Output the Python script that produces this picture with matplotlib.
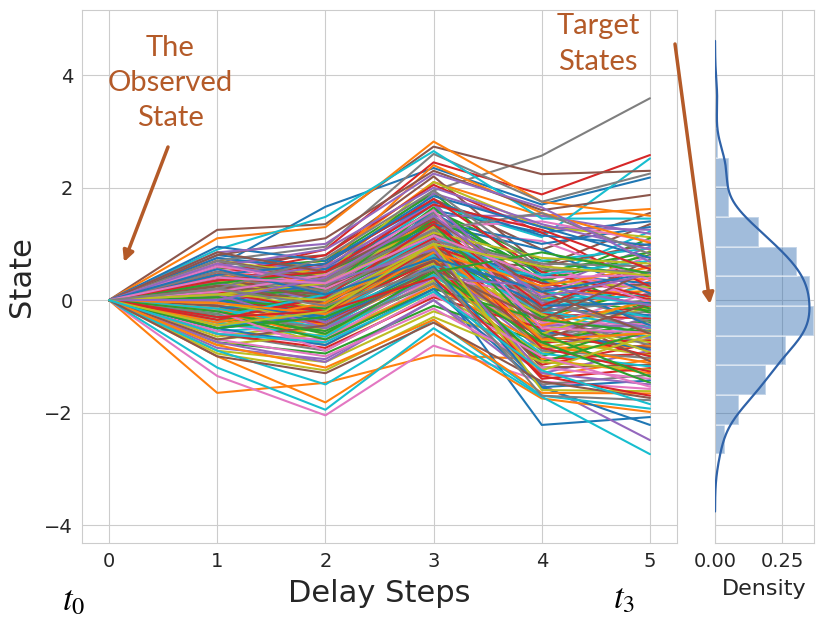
import numpy as np
import matplotlib.pyplot as plt
import seaborn as sns

sns.set_style('whitegrid')
plt.rcParams['font.family'] = ['DejaVu Sans']

# delay steps on the x axis
steps = [0, 1, 2, 3, 4, 5]
x_ticks = [0, 1, 2, 3, 4, 5]
y_ticks = [-4, -2, 0, 2, 4]
dens_ticks = [0.0, 0.25]

# every trajectory starts at the observed state 0, values below are steps 1..5
paths = [
    # 0-9
    [0.6, 1.66, 2.35, 1.7, 2.18],
    [0.5, 0.7, 2.1, 1.5, 1.62],
    [0.15, 0.5, 1.6, 0.7, 0.41],
    [0.25, 0.4, 1.3, -0.35, -0.11],
    [0.3, 0.05, 1.0, -0.6, -0.64],
    [-0.1, 0.4, 1.8, 0.9, 1.55],
    [-0.3, -0.55, 0.45, -0.25, 0.40],
    [0.35, 0.55, 1.95, 2.57, 3.59],
    [-0.35, -0.65, 0.25, -0.6, -0.13],
    [-0.55, -0.45, 0.5, -0.2, -0.66],
    # 10-19
    [0.3, 0.1, 1.6, 1.2, 1.40],
    [0.6, 0.45, 1.4, 0.3, 0.38],
    [0.55, 0.7, 1.9, 0.4, -0.15],
    [0.45, 0.9, 2.45, 1.88, 2.58],
    [0.1, 0.55, 1.75, -0.4, -0.68],
    [0.65, 0.8, 2.2, 0.6, 1.35],
    [-0.1, 0.2, 1.25, 1.05, 0.36],
    [-0.1, -0.3, 0.75, -0.8, -0.17],
    [-0.2, -0.8, 0.15, -0.95, -0.70],
    [0.2, 0.35, 1.7, 1.12, 2.52],
    # 20-29
    [-0.2, 0.3, 1.4, 1.0, 1.30],
    [0.3, -0.1, 0.8, -0.4, 0.34],
    [0.05, 0.1, 1.05, 0.05, -0.19],
    [0.6, 0.3, 1.15, -0.75, -0.72],
    [0.4, 0.2, 1.9, 1.3, 1.25],
    [1.25, 1.35, 2.73, 2.24, 2.30],
    [-0.55, -0.8, 0.2, -0.05, 0.32],
    [-0.6, -0.9, 0.1, -0.3, -0.21],
    [-0.7, -0.5, 0.4, -0.45, -0.75],
    [0.1, -0.2, 0.9, 0.4, 1.22],
    # 30-39
    [0.8, 0.6, 1.55, 0.45, 0.30],
    [1.1, 1.3, 2.82, 1.75, 1.50],
    [0.3, 0.15, 1.2, 0.6, -0.23],
    [0.2, -0.05, 0.8, -1.15, -0.78],
    [0.75, 0.5, 1.5, 1.5, 1.18],
    [0.05, -0.35, 0.65, 0.2, 0.28],
    [-0.2, -0.1, 0.9, -0.55, -0.25],
    [-0.35, -0.15, 1.05, -0.3, -0.80],
    [0.0, 0.45, 2.1, 1.3, 1.12],
    [-0.2, 0.15, 1.3, -0.15, 0.26],
    # 40-49
    [0.75, 0.55, 1.35, -0.15, -0.27],
    [0.45, 0.2, 0.95, -0.85, -0.82],
    [-0.4, -0.1, 1.2, 0.3, 1.10],
    [0.45, 0.8, 2.05, 1.2, 0.24],
    [-0.45, -0.35, 0.65, -0.9, -0.29],
    [-0.1, -0.6, 0.35, -0.65, -0.85],
    [0.55, 0.25, 1.3, 1.4, 1.05],
    [0.7, 0.95, 2.6, 1.75, 2.25],
    [-0.65, -0.4, 0.7, 0.35, 0.22],
    [0.15, -0.25, 0.55, 0.1, -0.31],
    # 50-59
    [0.0, 0.35, 1.5, -0.55, -0.88],
    [0.2, 0.6, 2.4, 1.55, 1.02],
    [0.25, 0.05, 0.9, -0.3, 0.20],
    [-0.05, 0.3, 1.4, -0.25, -0.33],
    [-0.85, -1.05, 0.0, -1.3, -0.90],
    [-0.1, -0.4, 0.7, 0.6, 1.00],
    [-0.05, -0.15, 1.1, 0.55, 0.18],
    [0.45, 0.05, 0.85, -0.65, -0.35],
    [0.35, 0.0, 0.65, -0.25, -0.93],
    [0.9, 1.48, 2.65, 1.45, 1.45],
    # 60-69
    [0.95, 0.7, 1.75, 1.15, 0.98],
    [0.5, 0.3, 1.45, 0.1, 0.16],
    [-0.75, -0.95, -0.1, -0.75, -0.37],
    [-0.3, -0.4, 0.55, -1.05, -0.95],
    [0.3, 0.0, 1.1, 0.2, 0.95],
    [0.8, 1.1, 2.3, 1.6, 1.87],
    [-0.4, -0.75, 0.3, -0.5, 0.14],
    [0.1, 0.2, 1.55, 0.2, -0.39],
    [0.7, 0.45, 1.3, -0.7, -0.98],
    [-0.5, -0.3, 0.8, 0.7, 0.92],
    # 70-79
    [0.1, 0.25, 1.35, 0.9, 0.12],
    [-1.65, -1.47, -0.98, -1.05, -1.30],
    [-0.3, -0.55, 0.3, -1.0, -0.41],
    [-0.6, -0.85, 0.05, -0.5, -1.00],
    [0.6, 0.9, 2.0, 1.35, 0.90],
    [0.7, 0.4, 1.2, -0.05, 0.10],
    [0.6, 0.35, 1.1, -0.4, -0.43],
    [0.05, -0.3, 0.9, -0.9, -1.03],
    [0.15, -0.15, 1.0, 0.0, 0.87],
    [-0.25, -0.3, 0.6, 0.0, 0.08],
    # 80-89
    [-0.15, 0.0, 1.0, 0.35, -0.45],
    [-0.45, -0.1, 0.75, -1.35, -1.06],
    [-0.25, 0.1, 1.45, 0.5, 0.85],
    [0.35, 0.65, 1.8, 0.5, 0.06],
    [0.2, -0.4, 0.45, -0.45, -0.47],
    [0.25, 0.1, 1.2, -0.15, -1.09],
    [-1.35, -2.05, -0.81, -1.45, -1.58],
    [0.7, 0.35, 1.25, 1.55, 0.82],
    [-0.8, -0.6, 0.35, -0.6, 0.04],
    [-0.5, -0.2, 0.8, -0.2, -0.49],
    # 90-99
    [0.1, -0.3, 0.4, -2.22, -2.08],
    [-0.15, -0.7, 0.25, -0.8, -1.12],
    [0.05, 0.2, 1.65, 0.35, 0.80],
    [0.0, -0.2, 0.95, 0.3, 0.02],
    [0.35, 0.6, 1.7, -0.05, -0.51],
    [0.4, 0.25, 0.85, -1.2, -1.15],
    [-0.6, -0.7, 0.4, 0.1, 0.78],
    [0.2, 0.35, 1.5, -0.2, 0.00],
    [-0.9, -1.1, -0.2, -0.85, -0.53],
    [-0.4, -0.65, 0.45, -0.95, -1.18],
    # 100-109
    [0.45, 0.65, 1.85, 1.3, 0.75],
    [-0.15, -0.45, 0.5, -0.45, -0.02],
    [0.0, -0.15, 0.7, -1.1, -0.55],
    [0.15, -0.2, 0.7, -1.4, -1.21],
    [-0.75, -1.1, 0.0, -1.5, -2.49],
    [0.25, -0.05, 0.95, -0.2, 0.72],
    [0.65, 0.2, 1.0, 0.65, -0.04],
    [0.5, 0.25, 1.25, 0.0, -0.56],
    [-0.95, -1.25, -0.3, -1.1, -1.24],
    [-0.15, -0.5, 0.6, 0.45, 0.70],
    # 110-119
    [-0.5, -0.25, 0.85, -0.1, -0.05],
    [-1.0, -1.82, -0.6, -1.75, -1.99],
    [-0.25, -0.7, 0.2, -0.35, -0.57],
    [0.5, 0.15, 1.1, -0.85, -1.27],
    [0.85, 1.0, 2.25, 1.65, 0.68],
    [0.4, 0.0, 0.7, -0.7, -0.06],
    [0.15, 0.45, 1.6, -0.5, -0.58],
    [-0.25, -0.5, 0.3, -1.5, -1.33],
    [0.1, 0.3, 1.2, 0.75, 0.65],
    [-0.3, 0.1, 1.15, 0.15, -0.08],
    # 120-129
    [-0.5, -0.8, 0.2, -1.55, -2.22],
    [-0.4, -0.05, 0.95, -0.7, -0.59],
    [0.3, 0.5, 1.35, -0.6, -1.36],
    [-0.35, 0.05, 1.35, -0.1, 0.62],
    [0.1, -0.5, 0.4, 0.25, -0.09],
    [0.85, 0.5, 1.45, 0.15, -0.60],
    [-0.7, -1.0, -0.15, -1.2, -1.40],
    [0.5, 0.15, 1.05, 0.65, 0.60],
    [-0.05, -0.35, 0.6, -1.25, -0.62],
    [-0.9, -1.5, -0.35, -1.7, -1.93],
    # 130-139
    [0.0, -0.35, 0.6, -1.55, -1.43],
    [-0.05, -0.25, 0.85, 0.25, 0.58],
    [-0.5, -0.3, 0.5, -0.75, -1.47],
    [0.35, 0.5, 1.7, 1.25, 0.55],
    [0.65, 0.3, 0.9, -1.3, -1.50],
    [-0.7, -0.45, 0.55, -0.35, 0.53],
    [-0.2, -0.9, 0.1, -1.0, -1.54],
    [0.2, 0.75, 1.95, 0.55, 0.50],
    [0.1, 0.0, 1.0, -1.6, -1.62],
    [-1.2, -1.95, -0.5, -1.72, -2.74],
    # 140-149
    [0.55, 0.1, 0.75, 0.15, 0.48],
    [-0.8, -1.2, -0.35, -1.65, -1.66],
    [-0.2, -0.6, 0.5, 0.85, 0.47],
    [-0.3, -0.2, 0.4, -1.35, -1.70],
    [0.0, 0.4, 1.5, 0.05, 0.46],
    [-1.0, -1.3, -0.4, -1.45, -1.74],
    [0.4, 0.3, 1.15, 0.4, 0.45],
    [0.2, -0.1, 0.55, -1.7, -1.78],
    [-0.45, -0.2, 1.0, 0.6, 0.44],
    [-0.6, -0.75, 0.15, -1.25, -1.85],
]

start_state = 0.0
n_bins = 12
kde_bw_adjust = 0.85
note_color = '#b45a28'
W, H = 826, 619

fig = plt.figure(figsize=(W / 100, H / 100), dpi=100)
ax = fig.add_axes([82 / W, 1 - 543 / H, 595 / W, 533 / H])
axh = fig.add_axes([715 / W, 1 - 543 / H, 99 / W, 533 / H], sharey=ax)

for p in paths:
    ax.plot(steps, [start_state] + p, lw=1.5)

ax.set_xticks(x_ticks)
ax.set_yticks(y_ticks)
ax.set_xlim(-0.25, 5.25)
ax.set_ylim(-4.32, 5.16)
ax.tick_params(labelsize=14, colors='.15', pad=3)
ax.set_xlabel('Delay Steps', fontsize=22, color='.15', labelpad=6)
ax.set_ylabel('State', fontsize=22, color='.15', labelpad=6)

# distribution of the target states (last step)
final = np.array([p[-1] for p in paths])
counts, edges = np.histogram(final, bins=n_bins, density=True)
axh.barh(edges[:-1], counts, height=np.diff(edges), align='edge',
         color='#2f6cb0', alpha=0.45, edgecolor='white', linewidth=1.2, zorder=2)

bw = kde_bw_adjust * final.std(ddof=1) * len(final) ** (-1 / 5)
grid = np.linspace(final.min() - 3 * bw, final.max() + 3 * bw, 300)
kde = np.exp(-0.5 * ((grid[:, None] - final[None, :]) / bw) ** 2).sum(axis=1)
kde /= len(final) * bw * np.sqrt(2 * np.pi)
axh.plot(kde, grid, color='#2f62a8', lw=1.6, zorder=3)

axh.set_xlim(0, 0.368)
axh.set_xticks(dens_ticks)
axh.set_xticklabels(['0.00', '0.25'])
axh.tick_params(labelleft=False, labelsize=14, colors='.15', pad=3)
axh.set_xlabel('Density', fontsize=16, color='.15', labelpad=6)

# annotations
fig.text(170 / W, 1 - 83 / H, 'The\nObserved\nState', ha='center', va='center',
         fontsize=21, color=note_color, family='Lato', linespacing=1.45)
fig.text(598 / W, 1 - 44 / H, 'Target\nStates', ha='center', va='center',
         fontsize=21, color=note_color, family='Lato', linespacing=1.45)
ax.annotate('', xy=(124 / W, 1 - 262 / H), xytext=(168 / W, 1 - 147 / H),
            xycoords='figure fraction', textcoords='figure fraction',
            arrowprops=dict(arrowstyle='-|>', color=note_color, lw=2.5,
                            mutation_scale=16, shrinkA=0, shrinkB=0))
ax.annotate('', xy=(710 / W, 1 - 304 / H), xytext=(675 / W, 1 - 44 / H),
            xycoords='figure fraction', textcoords='figure fraction',
            arrowprops=dict(arrowstyle='-|>', color=note_color, lw=2.5,
                            mutation_scale=16, shrinkA=0, shrinkB=0))
fig.text(74 / W, 1 - 600 / H, r'$t_0$', ha='center', va='center',
         fontsize=25, math_fontfamily='stix', color='black')
fig.text(624 / W, 1 - 598 / H, r'$t_3$', ha='center', va='center',
         fontsize=25, math_fontfamily='stix', color='black')

fig.savefig('out.png', dpi=100)
